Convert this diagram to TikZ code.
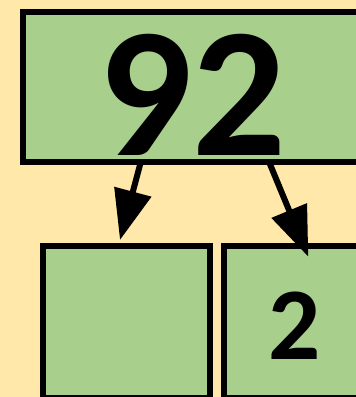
\documentclass[tikz,border=0pt]{standalone}
\usepackage{fontspec}
\setmainfont{Carlito}
\usetikzlibrary{arrows.meta}
\definecolor{bgyellow}{HTML}{FFE8A9}
\definecolor{boxgreen}{HTML}{A9CF8D}
\tikzset{
  cell/.style={draw=black, fill=boxgreen, line width=6pt, inner sep=0pt, outer sep=0pt},
  bigdigit/.style={inner sep=0pt, outer sep=0pt, font=\bfseries\fontsize{185}{185}\selectfont},
  smalldigit/.style={inner sep=0pt, outer sep=0pt, font=\bfseries\fontsize{103}{103}\selectfont},
  link/.style={line width=6pt, -{Triangle[length=50pt, width=37pt]}}
}
\begin{document}
\begin{tikzpicture}[x=1pt, y=-1pt]
\useasboundingbox (0,0) rectangle (356,397);
\fill[bgyellow] (0,0) rectangle (356,397);
\clip (0,0) rectangle (356,397);
\node (top) [cell, minimum width=357pt, minimum height=150pt] at (201.5,87) {};
\node (n92) [bigdigit] at (192.5,95) {92};
\node (left) [cell, minimum width=166.5pt, minimum height=152pt] at (126.25,322) {};
\node (right) [cell, minimum width=166.5pt, minimum height=152pt] at (306.75,322) {};
\node (n2) [smalldigit] at (294.5,326) {2};
\coordinate (a1s) at (140.5,163);
\coordinate (a1e) at (120,240);
\coordinate (a2s) at (269.5,163);
\coordinate (a2e) at (308.3,256.7);
\draw[link] (a1s) -- (a1e);
\draw[link] (a2s) -- (a2e);
\end{tikzpicture}
\end{document}
